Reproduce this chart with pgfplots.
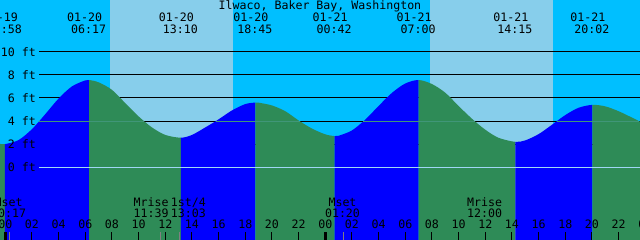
\documentclass[border=0pt]{standalone}
\usepackage{fontspec}
\setmainfont{DejaVu Sans Mono}
\usepackage{pgfplots}
\usepackage{pgfplotstable}
\pgfplotsset{compat=1.18}
\usepgfplotslibrary{fillbetween}
\definecolor{night}{RGB}{0,191,255}
\definecolor{day}{RGB}{135,206,235}
\definecolor{flood}{RGB}{0,0,255}
\definecolor{ebb}{RGB}{46,139,87}
\definecolor{datum}{RGB}{160,215,245}
\definecolor{msl}{RGB}{64,150,120}

% hours since 01-20 00:00, height in ft
\pgfplotstableread{
h ft
-0.4 2.03
-0.033 2.00
1 2.36
2 3.30
3 4.60
4 5.95
5 7.00
6 7.52
6.283 7.55
7 7.35
8 6.70
9 5.55
10 4.40
11 3.45
12 2.80
13.167 2.56
14 2.80
15 3.45
16 4.15
17 4.92
18 5.47
18.75 5.60
19 5.59
20 5.35
21 4.85
22 4.05
23 3.35
24 2.85
24.7 2.70
25 2.73
26 3.19
27 4.13
28 5.31
29 6.44
30 7.25
31 7.55
32 7.20
33 6.45
34 5.30
35 4.20
36 3.25
37 2.55
38.25 2.20
39 2.33
40 2.87
41 3.68
42 4.52
43 5.15
44.033 5.40
45 5.27
46 4.85
47 4.30
47.6 3.95
}\tide

\newcommand{\tl}[2]{\node[anchor=base] at (axis cs:#1,-5.337) {#2};}
\newcommand{\tk}[1]{\draw[line width=1bp] (axis cs:#1,-7) -- (axis cs:#1,-5.571);}
\newcommand{\gk}[1]{\draw[line width=1bp, gray] (axis cs:#1,-7) -- (axis cs:#1,-5.571);}
\newcommand{\ev}[3]{\node[anchor=base, xshift=-4.5bp] at (axis cs:#1,12.595) {#2};
  \node[anchor=base, xshift=-0.5bp] at (axis cs:#1,11.59) {#3};}
\newcommand{\mo}[3]{\node[anchor=base] at (axis cs:#1,-3.348) {#2};
  \node[anchor=base] at (axis cs:#1,-4.360) {#3};}
\newcommand{\yl}[1]{\node[anchor=east, inner sep=0pt] at (axis cs:2.30,#1) {#1 ft};}
\newcommand{\gl}[1]{\addplot[black, line width=1bp, on layer=axis grid] coordinates {(2.55,#1) (49,#1)};}

\begin{document}
\begin{tikzpicture}[font=\fontsize{11.6bp}{13bp}\selectfont]
\begin{axis}[
  width=640bp, height=240bp, scale only axis,
  xmin=-0.3975, xmax=47.6025, ymin=-6.289, ymax=14.472,
  hide axis, clip=true, set layers,
]
\coordinate (SW) at (rel axis cs:0,0);
\coordinate (NE) at (rel axis cs:1,1);
% sky
\addplot[fill=night, draw=none, on layer=axis background] coordinates {(-1,-7) (-1,15) (49,15) (49,-7)} -- cycle;
\addplot[fill=day, draw=none, on layer=axis background] coordinates {(7.853,-7) (7.853,15) (17.055,15) (17.055,-7)} -- cycle;
\addplot[fill=day, draw=none, on layer=axis background] coordinates {(31.853,-7) (31.853,15) (41.055,15) (41.055,-7)} -- cycle;
% depth lines
\gl{2}\gl{4}\gl{6}\gl{8}\gl{10}
% tide
\addplot[name path=tide, draw=none, smooth] table[x=h,y=ft] {\tide};
\path[name path=bot] (axis cs:-1,-7) -- (axis cs:49,-7);
\addplot[fill=ebb, draw=none] fill between[of=tide and bot, soft clip={domain=-1:-0.033}];
\addplot[fill=flood, draw=none] fill between[of=tide and bot, soft clip={domain=-0.033:6.283}];
\addplot[fill=ebb, draw=none] fill between[of=tide and bot, soft clip={domain=6.283:13.167}];
\addplot[fill=flood, draw=none] fill between[of=tide and bot, soft clip={domain=13.167:18.75}];
\addplot[fill=ebb, draw=none] fill between[of=tide and bot, soft clip={domain=18.75:24.7}];
\addplot[fill=flood, draw=none] fill between[of=tide and bot, soft clip={domain=24.7:31}];
\addplot[fill=ebb, draw=none] fill between[of=tide and bot, soft clip={domain=31:38.25}];
\addplot[fill=flood, draw=none] fill between[of=tide and bot, soft clip={domain=38.25:44.033}];
\addplot[fill=ebb, draw=none] fill between[of=tide and bot, soft clip={domain=44.033:49}];
% lines over water
\draw[datum, line width=1bp] (axis cs:2.55,0) -- (axis cs:49,0);
\draw[msl, line width=1bp] (axis cs:2.55,4) -- (axis cs:10.42,4);
\draw[msl, line width=1bp] (axis cs:15.79,4) -- (axis cs:22.07,4);
\draw[msl, line width=1bp] (axis cs:26.86,4) -- (axis cs:35.21,4);
\draw[msl, line width=1bp] (axis cs:41.38,4) -- (axis cs:47.51,4);
% y labels
\yl{10}\yl{8}\yl{6}\yl{4}\yl{2}\yl{0}
% title and tide events
\node[anchor=base] at (axis cs:23.60,13.65) {Ilwaco, Baker Bay, Washington};
\ev{-0.033}{01-19}{23:58}
\ev{6.283}{01-20}{06:17}
\ev{13.167}{01-20}{13:10}
\ev{18.75}{01-20}{18:45}
\ev{24.7}{01-21}{00:42}
\ev{31}{01-21}{07:00}
\ev{38.25}{01-21}{14:15}
\ev{44.033}{01-21}{20:02}
% moon events
\mo{0.255}{Mset}{00:17}
\mo{10.93}{Mrise}{11:39}
\mo{13.73}{1st/4}{13:03}
\mo{25.29}{Mset}{01:20}
\mo{35.955}{Mrise}{12:00}
% ticks
\gk{0.283}\gk{11.65}\gk{13.05}\gk{25.333}\gk{36}
\draw[line width=2.6bp] (axis cs:0,-7) -- (axis cs:0,-5.571);
\draw[line width=2.6bp] (axis cs:24,-7) -- (axis cs:24,-5.571);
\tk{2}\tk{4}\tk{6}\tk{8}\tk{10}\tk{12}\tk{14}\tk{16}\tk{18}\tk{20}\tk{22}
\tk{26}\tk{28}\tk{30}\tk{32}\tk{34}\tk{36}\tk{38}\tk{40}\tk{42}\tk{44}\tk{46}
\tl{0}{00}\tl{2}{02}\tl{4}{04}\tl{6}{06}\tl{8}{08}\tl{10}{10}\tl{12}{12}
\tl{14}{14}\tl{16}{16}\tl{18}{18}\tl{20}{20}\tl{22}{22}\tl{24}{00}
\tl{26}{02}\tl{28}{04}\tl{30}{06}\tl{32}{08}\tl{34}{10}\tl{36}{12}
\tl{38}{14}\tl{40}{16}\tl{42}{18}\tl{44}{20}\tl{46}{22}\tl{48}{00}
\end{axis}
\pgfresetboundingbox
\useasboundingbox (SW) rectangle (NE);
\end{tikzpicture}
\end{document}
